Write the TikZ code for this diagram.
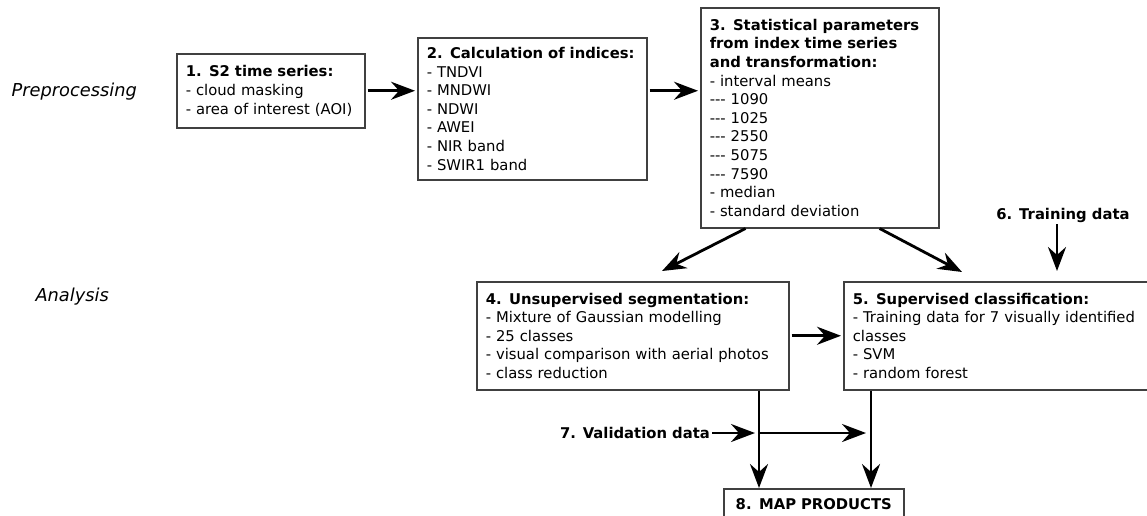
\documentclass[tikz,border=0pt]{standalone}
\usepackage{fontspec}
\setmainfont{DejaVu Sans}
\usetikzlibrary{positioning,calc,arrows.meta}

\newcommand{\boxfont}{\fontsize{14.8}{18.6}\selectfont}
\newcommand{\tripledash}{-{}-{}-}

\begin{document}
\begin{tikzpicture}[x=1pt, y=-1pt,
  box/.style={draw=black!75, line width=1.5pt, fill=white, anchor=north west,
    align=left, inner xsep=9pt, inner ysep=0pt, font=\boxfont},
  arr/.style={line width=2.8pt, -{Stealth[length=24pt,width=18pt,inset=8pt]}},
  stage/.style={font=\fontsize{17.8}{20}\selectfont\itshape, anchor=west},
  extra/.style={font=\boxfont\bfseries, inner sep=2pt}]

\useasboundingbox (0,0) rectangle (1147,515);
\clip (0,0) rectangle (1147,515);

% ── Stage labels ─────────────────────────────────────────────
\node[stage] (pre) at (8,92)  {Preprocessing};
\node[stage] (ana) at (32,297) {Analysis};

% ── Preprocessing boxes ──────────────────────────────────────
\node[box, text width=170pt, minimum height=74pt] (s2) at (176,53)
  {\textbf{1. S2 time series:}\\- cloud masking\\- area of interest (AOI)};

\node[box, text width=211pt, minimum height=142pt] (idx) at (417,37)
  {\textbf{2. Calculation of indices:}\\- TNDVI\\- MNDWI\\- NDWI\\- AWEI\\- NIR band\\- SWIR1 band};

\node[box, text width=220pt, minimum height=220pt] (stat) at (700,7)
  {\textbf{3. Statistical parameters}\\\textbf{from index time series}\\\textbf{and transformation:}\\
   - interval means\\\tripledash{} 1090\\\tripledash{} 1025\\\tripledash{} 2550\\
   \tripledash{} 5075\\\tripledash{} 7590\\- median\\- standard deviation};

% ── Analysis boxes ───────────────────────────────────────────
\node[box, text width=294pt, minimum height=108pt] (unsup) at (476,281)
  {\textbf{4. Unsupervised segmentation:}\\- Mixture of Gaussian modelling\\- 25 classes\\
   - visual comparison with aerial photos\\- class reduction};

\node[box, text width=320pt, minimum height=108pt] (sup) at (843,281)
  {\textbf{5. Supervised classification:}\\- Training data for 7 visually identified\\classes\\
   - SVM\\- random forest};

\node[box, text width=180pt, inner xsep=0pt, minimum height=30pt, align=center, font=\boxfont\bfseries] (maps) at (723,488)
  {8. MAP PRODUCTS};

% Extra inputs
\node[extra] (train) at (1063,215) {6. Training data};
\node[extra, anchor=east] (val) at (712,433) {7. Validation data};

\coordinate (m1) at ($(maps.north west)+(36,0)$);
\coordinate (m2) at ($(maps.north west)+(148,0)$);

% ── Arrows ───────────────────────────────────────────────────
\draw[arr, shorten <=2pt, shorten >=2pt] (s2.east) -- (s2.east -| idx.west);
\draw[arr, shorten <=2pt, shorten >=2pt] (idx.east |- s2.east) -- (stat.west |- s2.east);

\draw[arr] ($(stat.south west)!0.19!(stat.south east)$) -- ($(unsup.north west)+(186,-10)$);
\draw[arr] ($(stat.south west)!0.75!(stat.south east)$) -- ($(sup.north west)+(119,-9)$);
\draw[arr, shorten >=10pt] ([xshift=-6pt]train.south) -- ([xshift=-6pt]train.south |- sup.north);

\draw[arr, shorten <=2pt, shorten >=2pt] (unsup.east) -- (sup.west);

\draw[arr] (unsup.south -| m1) -- (m1);
\draw[arr] (sup.south -| m2) -- (m2);
\draw[arr, shorten >=4pt] (val.east) -- (val.east -| m1);
\draw[arr, shorten >=5pt] (val.east -| m1) -- (val.east -| m2);

\end{tikzpicture}
\end{document}
